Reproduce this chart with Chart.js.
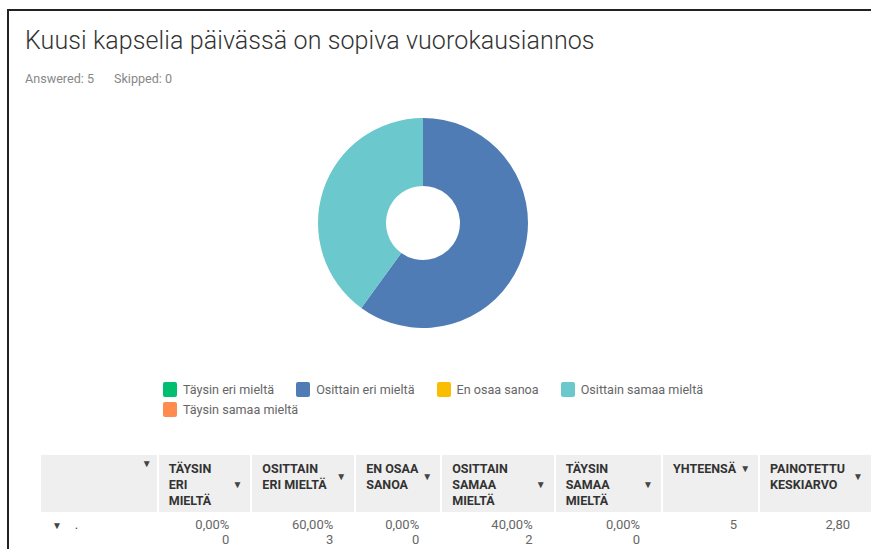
<!DOCTYPE html>
<html lang="fi">
<head>
<meta charset="utf-8">
<script src="https://cdn.jsdelivr.net/npm/chart.js@4"></script>
<style>
    html, body { margin: 0; padding: 0; background: #fff; }
    body { width: 871px; height: 549px; overflow: hidden; position: relative; font-family: Roboto, "Open Sans", sans-serif; }
    #kehys { position: absolute; left: 7px; top: 9px; width: 880px; height: 560px; border-top: 2px solid #222; border-left: 2px solid #222; }
    #otsikko { position: absolute; left: 25px; top: 26px; font-size: 25px; font-weight: 300; color: #333; white-space: nowrap; letter-spacing: 0.1px; }
    #vastaukset { position: absolute; left: 25px; top: 71px; font-size: 12.6px; color: #888; }
    #vastaukset span { margin-right: 20px; }
    #kaavio { position: absolute; left: 273px; top: 118px; width: 300px; height: 210px; }
    #selite { position: absolute; left: 163px; top: 379px; width: 570px; display: flex; flex-wrap: wrap; font-size: 12.6px; color: #666; }
    .selite-kohta { display: flex; align-items: center; height: 20px; margin-right: 22px; }
    .selite-laatikko { width: 14px; height: 15px; border-radius: 2px; margin-right: 6px; }
    table { position: absolute; left: 40px; top: 455px; border-collapse: collapse; table-layout: fixed; font-size: 12.5px; }
    th { background: #efefef; color: #333; font-weight: bold; text-align: left; vertical-align: top; padding: 6px 8px 3px 10px; line-height: 16px; border-left: 2px solid #fff; border-bottom: 2px solid #fff; }
    th:first-child { border-left: none; }
    th .solu { display: flex; align-items: center; justify-content: space-between; }
    th .solu span { white-space: nowrap; }
    th .nuoli { font-size: 10px; color: #444; margin-left: 4px; }
    th.yla .nuoli { margin-top: -11px; margin-right: -3px; }
    th.yla .solu { height: 16px; }
    td { color: #666; font-size: 13px; text-align: right; vertical-align: top; padding: 3px 21px 0 10px; line-height: 15px; border-left: 2px solid #fff; }
    td:first-child { text-align: left; color: #444; padding-left: 10px; }
</style>
</head>
<body>
<div id="kehys"></div>
<div id="otsikko">Kuusi kapselia päivässä on sopiva vuorokausiannos</div>
<div id="vastaukset"><span>Answered: 5</span><span>Skipped: 0</span></div>
<div id="kaavio"><canvas id="donitsi"></canvas></div>
<div id="selite"></div>
<table id="taulukko"></table>

<script>
// vastausvaihtoehdot ja tulokset
const vaihtoehdot = ['Täysin eri mieltä', 'Osittain eri mieltä', 'En osaa sanoa', 'Osittain samaa mieltä', 'Täysin samaa mieltä'];
const vastaukset = [0, 3, 0, 2, 0];
const prosentit = ['0,00%', '60,00%', '0,00%', '40,00%', '0,00%'];
const varit = ['#00bf6f', '#507cb6', '#f9be00', '#6bc8cd', '#ff8b4f'];
const yhteensa = 5;
const keskiarvo = '2,80';

// sarakeotsikot ja leveydet
const otsikot = ['', 'TÄYSIN<br>ERI<br>MIELTÄ', 'OSITTAIN<br>ERI MIELTÄ', 'EN OSAA<br>SANOA', 'OSITTAIN<br>SAMAA<br>MIELTÄ', 'TÄYSIN<br>SAMAA<br>MIELTÄ', 'YHTEENSÄ', 'PAINOTETTU<br>KESKIARVO'];
const leveydet = [118, 94, 104, 86, 114, 108, 97, 112];

document.addEventListener("DOMContentLoaded", function () {
    piirraSelite();
    piirraTaulukko();
    piirraKaavio();
});

function piirraSelite() {
    const selite = document.getElementById("selite");
    vaihtoehdot.forEach((teksti, i) => {
        const kohta = document.createElement("div");
        kohta.className = "selite-kohta";
        kohta.innerHTML = `<div class="selite-laatikko" style="background:${varit[i]}"></div>${teksti}`;
        selite.appendChild(kohta);
    });
};

function piirraTaulukko() {
    const taulukko = document.getElementById("taulukko");
    let html = '<colgroup>' + leveydet.map(w => `<col style="width:${w}px">`).join('') + '</colgroup>';
    html += '<tr>';
    otsikot.forEach((o, i) => {
        const luokka = i === 0 ? ' class="yla"' : '';
        html += `<th${luokka}><div class="solu"><span>${o}</span><span class="nuoli">▼</span></div></th>`;
    });
    html += '</tr><tr><td><span style="font-size:10px">▼</span>&nbsp;&nbsp;&nbsp;&nbsp;.</td>';
    vastaukset.forEach((v, i) => {
        html += `<td>${prosentit[i]}<br>${v}</td>`;
    });
    html += `<td>${yhteensa}</td><td>${keskiarvo}</td></tr>`;
    taulukko.innerHTML = html;
};

function piirraKaavio() {
    const ctx = document.getElementById("donitsi").getContext('2d');
    new Chart(ctx, {
        type: 'doughnut',
        data: {
            labels: vaihtoehdot,
            datasets: [{
                data: vastaukset,
                backgroundColor: varit,
                borderWidth: 0,
                hoverOffset: 0
            }]
        },
        options: {
            responsive: true,
            maintainAspectRatio: false,
            animation: false,
            radius: 105,
            cutout: 37,
            plugins: {
                legend: { display: false },
                tooltip: { enabled: false }
            }
        }
    });
};
</script>
</body>
</html>
